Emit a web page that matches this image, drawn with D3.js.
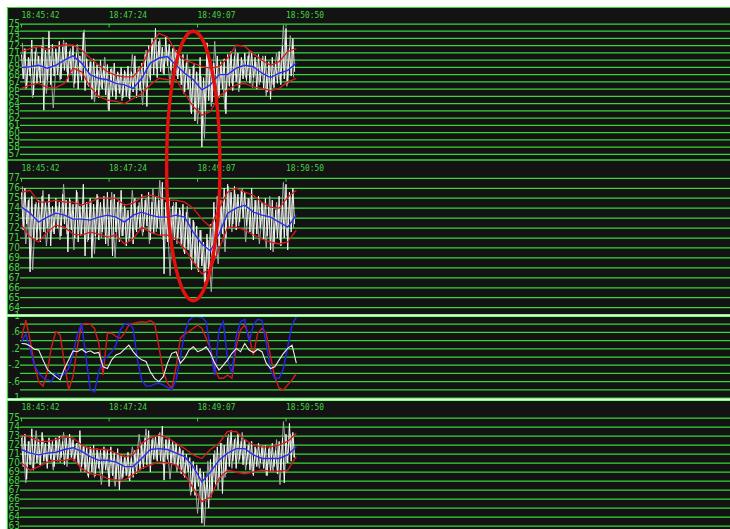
<!DOCTYPE html>
<html><head><meta charset="utf-8">
<script src="https://cdn.jsdelivr.net/npm/d3@7"></script>
<style>html,body{margin:0;padding:0;background:#fff;}svg{display:block}</style>
</head><body>
<svg id="chart" width="730" height="529"></svg>
<script>
// ---- data ----
const startTime = "18:45:42";
const timeTicks = ["18:45:42", "18:47:24", "18:49:07", "18:50:50"];
const rawStep = 2;     // seconds between raw samples
const traceStep = 4;   // seconds between secondary trace samples
const traceOffset = 1; // secondary trace starts one second later
const bandStep = 10;   // seconds between average / band samples
const oscStep = 5;     // seconds between oscillator samples

const p1Raw = [
  70.8,67.4,71.6,66.2,70.4,67.8,72.8,65.2,71.2,66.8,
  70.6,66.9,72.0,63.1,71.4,67.2,74.0,66.6,72.2,67.8,
  71.6,68.0,72.6,67.4,71.8,68.6,72.4,67.0,71.2,68.2,
  72.0,66.8,71.0,66.0,70.6,67.2,73.8,65.8,70.2,66.4,
  69.8,64.6,70.2,65.6,69.4,64.8,70.0,66.0,69.2,65.2,
  69.4,63.0,68.8,65.0,69.6,64.6,68.4,65.4,69.0,64.8,
  68.6,65.0,69.2,64.6,68.4,65.6,70.6,64.8,68.8,65.8,
  69.6,66.0,70.8,63.6,72.0,67.2,73.0,68.0,74.4,67.6,
  72.6,68.4,71.8,68.0,73.2,69.2,72.2,68.6,71.6,68.2,
  71.4,67.4,70.6,66.6,70.8,65.6,69.6,66.0,68.8,62.6,
  69.2,61.6,68.4,63.4,70.4,58.0,67.6,63.0,72.4,64.4,
  70.2,64.2,69.6,65.4,70.6,64.8,69.8,66.0,70.2,62.6,
  70.8,66.4,71.2,65.8,70.6,67.0,71.0,66.2,70.4,67.4,
  71.0,67.2,70.6,66.8,71.2,67.6,70.4,66.0,70.8,67.0,
  70.2,66.0,70.6,65.6,69.8,64.6,70.4,66.2,69.6,66.8,
  71.2,66.6,72.0,67.4,74.4,66.8,71.6,67.8,73.0,68.4
];
const p1Trace = [
  72.4,66.0,70.2,64.8,71.8,67.6,73.2,65.4,70.6,63.4,
  71.0,67.2,72.8,68.4,71.6,66.2,72.2,67.8,74.2,66.6,
  69.8,64.2,68.6,66.2,70.4,63.2,69.0,65.8,68.2,64.4,
  68.4,64.8,70.8,66.2,69.2,63.8,71.4,67.6,72.6,68.8,
  73.0,68.2,71.4,66.6,72.0,67.8,70.2,65.4,70.8,62.8,
  69.6,61.2,67.8,59.2,71.0,63.6,72.6,64.8,69.4,63.2,
  70.4,66.8,71.6,65.6,70.0,67.6,71.2,66.2,69.8,66.6,
  70.6,65.0,69.4,66.6,71.0,67.2,74.8,66.4,73.4,67.6
];
const p1Mid = [69.0,69.1,69.3,68.9,69.3,70.0,70.6,69.6,68.0,67.5,67.3,66.8,66.6,66.1,67.5,69.6,70.3,70.5,69.3,68.2,67.3,65.9,66.6,68.0,68.0,68.9,69.3,69.1,68.2,67.6,68.2,68.6,69.6];
const p1Upper = [71.2,71.6,71.9,71.5,71.9,72.1,72.1,71.4,70.3,69.3,68.4,67.9,67.7,67.7,69.1,71.9,73.7,73.2,71.2,70.0,69.6,69.1,68.9,69.1,70.3,72.1,71.9,70.9,70.0,69.3,69.8,71.2,71.6];
const p1Lower = [66.1,66.6,66.8,66.2,66.2,66.8,68.9,68.4,66.3,65.0,64.5,64.3,64.0,64.7,65.4,66.6,67.5,67.3,67.3,65.4,63.6,62.4,62.9,65.0,65.9,66.6,66.8,66.3,66.1,65.8,66.1,67.0,67.5];

const p2Raw = [
  75.6,71.8,76.0,72.4,74.8,67.6,75.2,71.0,74.4,70.8,
  74.8,70.6,75.2,71.6,74.6,72.0,75.4,70.2,74.2,71.4,
  75.0,72.0,74.6,71.2,75.4,72.4,74.8,69.6,75.0,71.8,
  74.4,71.0,75.8,70.6,74.2,71.4,76.4,69.2,74.6,70.8,
  75.0,69.0,74.4,71.2,75.4,70.8,74.6,71.6,75.2,70.4,
  75.6,71.0,74.8,69.2,75.4,71.6,74.6,70.6,75.8,71.2,
  74.4,70.2,73.8,71.0,74.6,70.4,75.0,71.6,74.2,72.0,
  75.4,71.6,74.8,72.2,75.6,70.8,74.6,71.4,75.2,72.0,
  74.8,71.2,76.6,67.4,74.6,70.6,75.0,71.4,74.2,70.8,
  74.6,71.0,74.0,70.2,74.4,69.4,73.6,69.8,73.0,67.8,
  72.8,68.4,72.2,67.6,71.8,68.2,70.6,66.2,71.4,67.4,
  72.4,68.6,74.6,69.0,75.2,70.2,74.8,71.4,76.0,71.0,
  76.4,72.0,75.6,72.4,76.2,71.8,75.4,72.6,75.8,73.0,
  75.6,72.2,75.0,71.6,76.0,70.8,74.8,71.4,75.2,72.0,
  74.6,70.8,75.0,71.2,74.2,69.8,74.8,70.4,73.8,71.0,
  75.2,70.2,74.6,71.0,76.4,69.8,75.6,71.6,76.0,72.4
];
const p2Trace = [
  76.2,70.4,75.0,67.8,74.6,71.8,75.8,70.2,74.0,71.6,
  74.2,70.8,76.4,71.4,74.8,69.8,75.6,71.2,74.4,70.6,
  74.6,69.4,75.2,71.0,74.0,70.2,75.6,69.0,74.8,71.2,
  74.0,70.6,75.8,71.8,74.6,71.2,75.0,70.4,76.0,71.6,
  76.8,70.8,74.2,67.2,74.6,70.4,73.8,69.6,74.2,68.8,
  72.6,67.8,71.8,66.6,70.8,65.6,72.6,68.4,74.2,69.6,
  76.2,71.6,75.4,72.2,76.0,70.6,75.0,71.2,74.8,70.4,
  74.4,70.0,75.2,69.6,74.6,70.8,76.6,71.2,75.4,72.0
];
const p2Mid = [74.1,73.5,72.6,73.1,73.5,73.3,72.9,72.9,72.8,73.1,73.3,73.1,72.6,73.3,73.6,73.3,73.1,73.1,73.3,73.1,71.6,70.4,69.7,71.4,73.5,74.0,74.3,73.6,73.3,73.1,72.6,72.1,73.3];
const p2Upper = [75.6,75.8,74.6,74.6,74.8,74.6,74.6,74.3,74.6,75.0,75.0,75.0,74.3,74.5,75.1,75.3,75.1,74.8,74.8,74.6,74.0,72.9,72.1,74.0,75.6,76.0,75.6,75.3,74.6,74.1,74.0,75.1,75.8];
const p2Lower = [72.3,71.1,70.6,71.6,72.3,72.1,71.4,71.3,71.6,71.4,71.1,71.3,70.4,70.9,72.1,71.6,71.3,71.3,70.9,69.9,68.6,67.4,67.9,69.9,72.1,72.1,71.8,71.3,70.9,70.6,70.4,70.6,71.8];

const oscRed = [0.46,0.90,0.41,-0.20,-0.60,-0.71,-0.36,0.25,0.62,0.54,-0.15,-0.80,-0.48,0.25,0.78,0.82,0.80,0.70,0.33,-0.44,0.58,0.58,0.50,0.46,0.58,0.78,0.82,0.84,0.86,0.84,0.89,0.82,0.25,-0.36,-0.64,-0.76,-0.24,0.46,0.56,0.62,0.70,0.78,0.70,0.46,0.21,-0.28,-0.52,-0.52,-0.44,-0.52,0.25,0.66,0.78,0.50,0.05,0.58,0.70,0.58,0.01,-0.48,-0.76,-0.80,-0.68,-0.56,-0.40];
const oscBlue = [0.37,0.56,0.21,-0.20,-0.40,-0.50,-0.56,-0.59,-0.40,-0.48,-0.40,-0.28,0.09,0.54,0.82,0.01,-0.79,-0.85,-0.36,-0.07,0.01,0.13,0.29,0.66,0.80,0.82,0.70,-0.07,-0.56,-0.71,-0.71,-0.66,-0.64,-0.68,-0.74,-0.80,-0.56,0.01,0.58,0.90,0.98,0.98,0.97,0.86,0.17,-0.44,0.66,0.86,-0.07,-0.40,0.50,0.86,0.92,0.37,0.78,0.92,0.89,0.33,-0.32,-0.52,-0.52,-0.28,0.25,0.78,0.98];
const oscWhite = [0.33,0.32,0.27,0.19,0.17,-0.07,-0.30,-0.40,-0.48,-0.56,-0.28,-0.07,0.15,0.13,0.19,0.11,0.15,0.09,0.11,-0.24,-0.28,-0.07,0.05,0.09,0.19,0.29,0.13,0.01,-0.07,-0.11,-0.36,-0.52,-0.60,-0.48,-0.15,0.09,0.13,-0.15,-0.03,0.17,0.25,0.13,0.17,0.25,0.09,-0.15,-0.32,-0.20,-0.07,0.09,0.21,0.13,0.33,0.17,0.11,0.19,0.13,-0.15,-0.28,-0.24,-0.07,0.09,0.21,0.29,-0.15];
const oscLabelValues = [1, 0.6, 0.2, -0.2, -0.6, -1];
const oscLabelTexts = ["1", ".6", ".2", "-.2", "-.6", "-1"];

const p4Raw = [
  72.8,69.6,73.2,68.2,72.4,69.8,73.8,69.2,72.6,70.0,
  72.6,69.8,73.4,70.2,72.2,69.4,72.8,70.4,72.4,69.6,
  72.8,70.2,73.0,70.6,72.4,69.8,72.8,70.4,73.2,70.6,
  72.6,70.4,72.2,69.8,73.6,69.6,72.0,69.0,71.8,68.4,
  71.8,69.0,72.0,68.6,71.6,69.4,71.4,68.8,71.8,69.2,
  71.4,67.4,71.8,68.6,71.2,68.2,71.6,67.0,71.0,68.4,
  70.8,68.6,71.2,68.0,70.6,68.4,71.4,68.8,71.6,69.2,
  72.2,69.4,72.8,69.8,73.6,69.0,72.6,70.4,73.0,70.2,
  73.2,70.2,74.1,68.1,72.6,70.4,72.8,70.0,72.4,69.8,
  72.2,69.6,71.8,68.8,71.4,68.4,71.0,69.0,70.6,66.8,
  70.2,66.4,69.8,67.4,69.4,63.3,69.0,66.0,68.6,65.0,
  70.4,66.8,71.0,67.6,71.8,68.2,72.2,66.6,72.0,68.8,
  72.8,69.6,73.6,70.2,72.6,69.4,73.2,70.4,72.4,69.8,
  72.6,69.8,72.0,69.2,72.4,68.6,71.8,69.6,72.2,70.0,
  71.8,69.4,72.0,68.6,71.6,69.0,72.2,69.6,71.4,68.8,
  72.4,69.2,72.8,67.8,73.2,70.0,74.4,70.2,73.4,70.6
];
const p4Trace = [
  73.0,67.8,72.4,69.4,73.6,69.8,72.8,70.2,72.2,69.2,
  72.6,70.0,73.4,69.6,72.8,70.2,72.2,69.0,71.8,68.6,
  71.6,68.4,71.2,67.6,71.4,68.8,70.8,67.4,71.0,68.2,
  70.6,68.2,71.8,69.6,73.2,70.0,73.8,69.8,72.8,70.4,
  73.4,69.8,72.6,68.2,72.0,69.0,71.6,68.6,70.4,66.4,
  69.6,64.4,68.8,63.0,70.2,66.2,71.4,67.0,72.2,68.4,
  73.2,69.4,72.8,70.0,73.4,69.2,72.2,68.8,71.6,69.4,
  72.0,68.6,71.8,69.0,72.6,67.6,74.6,70.0,73.2,70.6
];
const p4Mid = [71.5,71.1,70.9,71.1,71.2,71.5,71.7,71.3,70.7,70.3,70.3,70.1,69.6,69.6,70.5,71.5,71.6,71.5,71.1,70.7,69.6,67.9,69.0,70.3,71.1,71.6,71.6,70.9,70.5,70.5,70.5,70.9,71.8];
const p4Upper = [73.1,72.9,72.4,72.4,72.6,72.9,72.8,72.0,71.6,71.5,71.5,71.1,70.7,70.9,72.2,72.8,73.1,72.8,72.2,71.6,70.9,70.5,71.5,72.2,73.5,73.5,72.6,72.0,71.8,71.8,72.0,72.4,73.3];
const p4Lower = [70.0,69.2,69.6,70.1,70.3,70.3,70.5,69.4,68.8,68.7,68.3,68.1,68.1,68.7,69.4,69.8,70.1,70.0,69.8,68.7,67.2,65.7,66.2,68.3,69.2,69.0,68.8,69.0,69.2,69.1,69.1,69.2,70.7];

// highlighted episode: centre time offset (s), half width (s), top in panel 1, bottom in panel 2
const markCentre = 200, markHalf = 31, markTopValue = 74, markBottomValue = 64.7;

// ---- layout ----
const W = 730, H = 529, frameX = 7, frameY = 7;
const GRID = "#36d836", LABEL = "#44d444";

const parse = d3.timeParse("%H:%M:%S");
const t0 = parse(startTime);
const x = d3.scaleTime()
  .domain([t0, d3.timeSecond.offset(t0, 825)])
  .range([21.5, W]);
const tAt = s => d3.timeSecond.offset(t0, s);

const panels = [
  {min: 57, max: 75, top: 24, bottom: 154.3, timeY: 15, raw: p1Raw, trace: p1Trace, mid: p1Mid, up: p1Upper, lo: p1Lower},
  {min: 64, max: 77, top: 178.3, bottom: 307.7, timeY: 168.5, raw: p2Raw, trace: p2Trace, mid: p2Mid, up: p2Upper, lo: p2Lower},
  {min: 63, max: 75, top: 418, bottom: 526, timeY: 407.5, raw: p4Raw, trace: p4Trace, mid: p4Mid, up: p4Upper, lo: p4Lower}
];

const svg = d3.select("#chart");
svg.append("rect").attr("x", frameX).attr("y", frameY)
  .attr("width", W - frameX).attr("height", H - frameY).attr("fill", "#131313");

function grid(g, y, values) {
  g.selectAll("line.grid").data(values).join("line")
    .attr("class", "grid")
    .attr("x1", 20).attr("x2", W)
    .attr("y1", d => y(d)).attr("y2", d => y(d))
    .attr("stroke", GRID).attr("stroke-width", 1.25);
}

function yLabels(g, y, values, texts) {
  g.selectAll("text.yl").data(values).join("text")
    .attr("class", "yl")
    .attr("x", 20).attr("y", d => y(d))
    .attr("text-anchor", "end")
    .attr("dominant-baseline", "middle")
    .attr("fill", LABEL)
    .attr("font-family", "'DejaVu Sans Condensed','DejaVu Sans',sans-serif")
    .attr("font-size", 10)
    .text((d, i) => texts[i]);
}

function timeAxis(g, yPos, labelY) {
  const ticks = timeTicks.map(parse);
  g.selectAll("line.tk").data(ticks).join("line")
    .attr("class", "tk")
    .attr("x1", d => x(d)).attr("x2", d => x(d))
    .attr("y1", yPos).attr("y2", yPos + 3.5)
    .attr("stroke", GRID).attr("stroke-width", 1);
  g.selectAll("text.tl").data(ticks).join("text")
    .attr("class", "tl")
    .attr("x", d => x(d)).attr("y", labelY)
    .attr("dominant-baseline", "middle")
    .attr("fill", LABEL)
    .attr("font-family", "'DejaVu Sans Mono',monospace")
    .attr("font-size", 9.5)
    .attr("textLength", 38).attr("lengthAdjust", "spacingAndGlyphs")
    .text(d => d3.timeFormat("%H:%M:%S")(d));
}

function series(g, data, step, y, color, width, offset = 0) {
  const line = d3.line()
    .x((d, i) => x(tAt(offset + i * step)))
    .y(d => y(d));
  g.append("path").datum(data)
    .attr("d", line)
    .attr("fill", "none")
    .attr("stroke", color)
    .attr("stroke-width", width)
    .attr("stroke-linejoin", "miter");
}

const yScales = [];
panels.forEach(p => {
  const y = d3.scaleLinear().domain([p.min, p.max]).range([p.bottom, p.top]);
  yScales.push(y);
  const g = svg.append("g");
  const vals = d3.range(p.min, p.max + 1);
  grid(g, y, vals);
  timeAxis(g, y(p.max), p.timeY);
  series(g, p.trace, traceStep, y, "#a8a8a8", 1, traceOffset);
  series(g, p.raw, rawStep, y, "#f4f4f4", 1);
  series(g, p.up, bandStep, y, "#d81c1c", 1.3);
  series(g, p.lo, bandStep, y, "#d81c1c", 1.3);
  series(g, p.mid, bandStep, y, "#2c2cf0", 1.4);
  yLabels(g, y, vals, vals.map(String));
});

// oscillator panel
const yOsc = d3.scaleLinear().domain([-1, 1]).range([398, 316]);
const go = svg.append("g");
grid(go, yOsc, d3.range(-5, 6).map(k => k / 5));
series(go, oscRed, oscStep, yOsc, "#d41a1a", 1.4);
series(go, oscBlue, oscStep, yOsc, "#2626f2", 1.4);
series(go, oscWhite, oscStep, yOsc, "#eeeeee", 1.1);
yLabels(go, yOsc, oscLabelValues, oscLabelTexts);

// frame lines and panel separators
const frame = svg.append("g");
frame.append("line").attr("x1", frameX + 0.5).attr("x2", frameX + 0.5).attr("y1", frameY).attr("y2", H)
  .attr("stroke", GRID).attr("stroke-width", 1.2);
frame.append("line").attr("x1", frameX).attr("x2", W).attr("y1", frameY + 0.5).attr("y2", frameY + 0.5)
  .attr("stroke", GRID).attr("stroke-width", 1.2);
frame.append("line").attr("x1", frameX).attr("x2", W).attr("y1", 160).attr("y2", 160)
  .attr("stroke", GRID).attr("stroke-width", 1.5);
[yOsc(1) - 0.5, yOsc(-1) + 1.5].forEach(yy => {
  frame.append("line").attr("x1", frameX).attr("x2", W).attr("y1", yy).attr("y2", yy)
    .attr("stroke", "#7dff7d").attr("stroke-width", 3.2);
  frame.append("line").attr("x1", frameX).attr("x2", W).attr("y1", yy).attr("y2", yy)
    .attr("stroke", "#e6ffe6").attr("stroke-width", 1.2);
});

// highlighted episode outline
const eTop = yScales[0](markTopValue), eBottom = yScales[1](markBottomValue);
const eCx = x(tAt(markCentre));
const eRx = x(tAt(markCentre + markHalf)) - eCx;
svg.append("ellipse")
  .attr("cx", eCx).attr("cy", (eTop + eBottom) / 2)
  .attr("rx", eRx).attr("ry", (eBottom - eTop) / 2)
  .attr("fill", "none").attr("stroke", "#e3100e").attr("stroke-width", 3.4);
</script>
</body></html>
